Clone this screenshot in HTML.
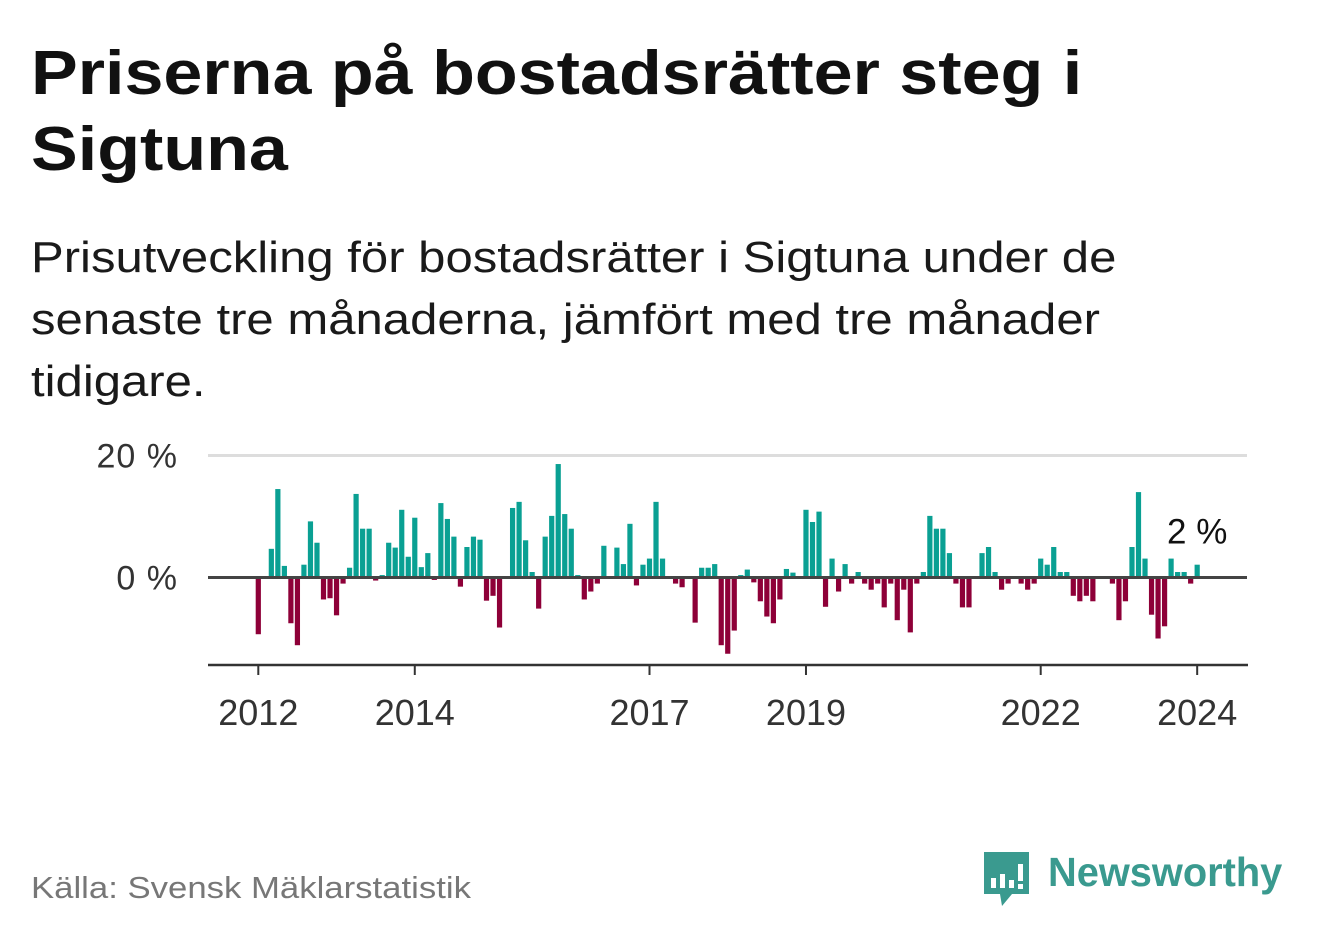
<!DOCTYPE html>
<html><head><meta charset="utf-8">
<style>
html,body{margin:0;padding:0;background:#fff;}
body{width:1322px;height:939px;position:relative;overflow:hidden;font-family:"Liberation Sans",sans-serif;color:#111;}
.t{position:absolute;white-space:nowrap;transform-origin:0 0;}
</style></head>
<body>
<div class="t" style="left:31px;top:36px;font-size:62px;font-weight:bold;line-height:76px;color:#111;transform:scaleX(1.13);">Priserna på bostadsrätter steg i<br>Sigtuna</div>
<div class="t" style="left:31px;top:227px;font-size:44px;line-height:62px;color:#1a1a1a;transform:scaleX(1.115);">Prisutveckling för bostadsrätter i Sigtuna under de<br>senaste tre månaderna, jämfört med tre månader<br>tidigare.</div>
<svg id="chart" width="1322" height="939" style="position:absolute;left:0;top:0;" xmlns="http://www.w3.org/2000/svg"></svg>
<div class="t" style="left:31px;top:870px;font-size:31px;color:#777;transform:scaleX(1.12);">Källa: Svensk Mäklarstatistik</div>
<div style="position:absolute;left:982px;top:850px;">
<svg width="50" height="60"><path d="M2 2 H47 V44 H30 L20 56 L18 44 H2 Z" fill="#3a9a8f"/><rect x="9" y="28" width="5" height="10" fill="#fff"/><rect x="18" y="24" width="5" height="14" fill="#fff"/><rect x="27" y="30" width="5" height="8" fill="#fff"/><rect x="36" y="14" width="5" height="17" fill="#fff"/><rect x="36" y="34" width="5" height="5" fill="#fff"/></svg>
</div>
<div class="t" style="left:1048px;top:849px;font-size:41px;font-weight:bold;color:#3a9a8f;transform:scaleX(0.97);">Newsworthy</div>
<script>
const years = [2012,2014,2017,2019,2022,2024];
const yTicks = [0,20];
const yTickLabels = ["0 %","20 %"];
const values = [
-9.3,0,4.7,14.5,1.9,-7.5,-11.1,2.1,9.2,5.7,-3.6,-3.4,
-6.2,-1.0,1.6,13.7,8.0,8.0,-0.5,0.4,5.7,4.9,11.1,3.4,
9.8,1.7,4.0,-0.4,12.2,9.6,6.7,-1.5,5.0,6.7,6.2,-3.8,
-3.0,-8.2,0,11.4,12.4,6.1,0.9,-5.1,6.7,10.1,18.6,10.4,
8.0,0.4,-3.6,-2.3,-1.0,5.2,0,4.9,2.2,8.8,-1.3,2.1,
3.1,12.4,3.1,0,-1.0,-1.6,0,-7.4,1.6,1.6,2.2,-11.1,
-12.5,-8.7,0.4,1.3,-0.8,-3.9,-6.4,-7.5,-3.6,1.4,0.8,0,
11.1,9.1,10.8,-4.8,3.1,-2.3,2.2,-1.0,0.9,-1.0,-2.0,-1.0,
-4.9,-1.0,-7.0,-2.0,-9.0,-1.0,0.9,10.1,8.0,8.0,4.0,-1.0,
-4.9,-4.9,0,4.0,5.0,0.9,-2.0,-1.0,0,-1.0,-2.0,-1.0,
3.1,2.1,5.0,0.9,0.9,-3.0,-3.9,-3.0,-3.9,0,0,-1.0,
-7.0,-3.9,5.0,14.0,3.1,-6.1,-10.0,-8.0,3.1,0.9,0.9,-1.0,
2.1];
const lastLabel = "2 %";

const svg = document.getElementById('chart');
const NS = 'http://www.w3.org/2000/svg';
const x0 = 258.3, monthW = 6.52;
const xScale = i => x0 + i*monthW;
const xYear = y => x0 + (y-2012)*12*monthW;
const yScale = v => 577.5 - v*6.1;
function mk(tag, attrs){const e=document.createElementNS(NS,tag);for(const k in attrs)e.setAttribute(k,attrs[k]);svg.appendChild(e);return e;}

yTicks.forEach((t,i)=>{
  if(t!==0){
    const g=mk('line',{x1:208,x2:1247,y1:yScale(t),y2:yScale(t),stroke:'#ddd','stroke-width':3});
    
    
  }
  const tx=mk('text',{x:178,y:yScale(t)+12,'text-anchor':'end','font-size':34,fill:'#333','font-family':'Liberation Sans, sans-serif','letter-spacing':1});
  tx.textContent=yTickLabels[i];
  
  
});

values.forEach((v,i)=>{
  if(v===0) return;
  const x=xScale(i);
  const y=v>0?yScale(v):yScale(0);
  const h=Math.abs(yScale(v)-yScale(0));
  const r=mk('rect',{x:x-2.6,y:y,width:5.2,height:h,fill:v>0?'#0aa093':'#8e0038'});
  
  
});

const z=mk('line',{x1:208,x2:1247,y1:yScale(0),y2:yScale(0),stroke:'#444','stroke-width':3});



const ax=mk('line',{x1:208,x2:1248,y1:665,y2:665,stroke:'#333','stroke-width':2.5});



years.forEach(yr=>{
  const x=xYear(yr);
  const tk=mk('line',{x1:x,x2:x,y1:665,y2:675,stroke:'#333','stroke-width':2});
  
  
  const tx=mk('text',{x:x,y:725,'text-anchor':'middle','font-size':36,fill:'#333','font-family':'Liberation Sans, sans-serif'});
  tx.textContent=String(yr);
  
  
});

const li=values.length-1;
const lab=mk('text',{x:xScale(li),y:yScale(values[li])-21,'text-anchor':'middle','font-size':35,fill:'#111','font-family':'Liberation Sans, sans-serif'});
lab.textContent=lastLabel;


</script>
</body></html>
